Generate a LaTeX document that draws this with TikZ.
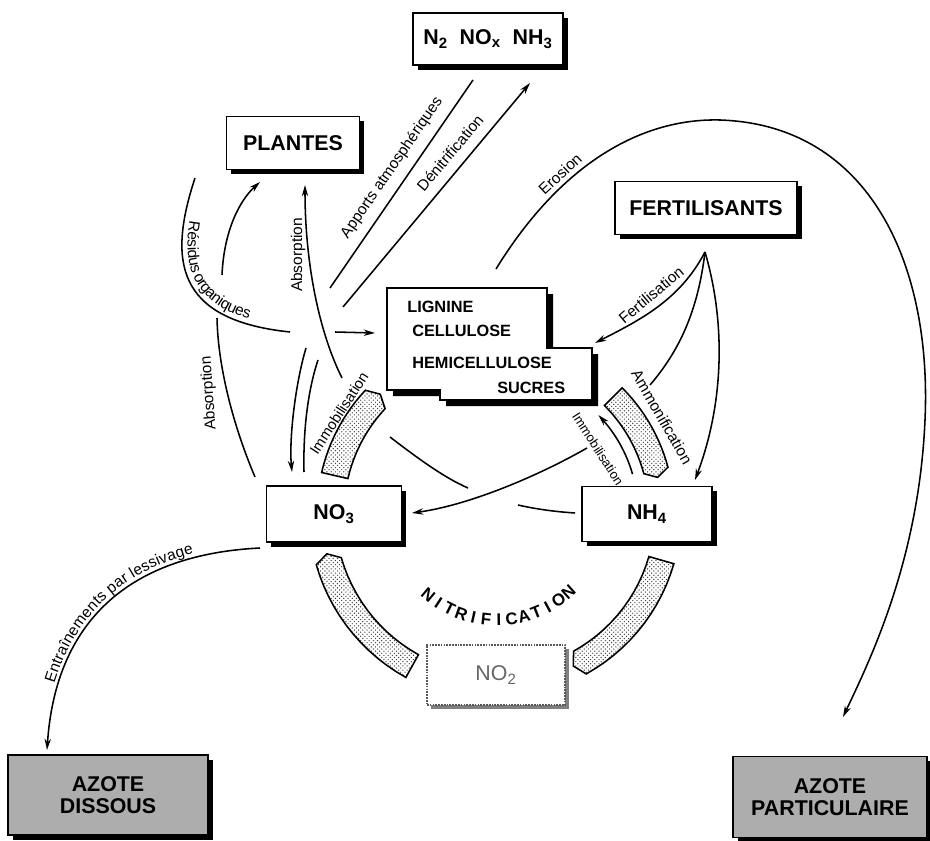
\documentclass[tikz,border=0pt]{standalone}
\usepackage{fontspec}
\setmainfont{Liberation Sans}
\usetikzlibrary{arrows.meta,shadows,patterns,decorations.text,positioning}

\newcommand\boxfont{\fontsize{15.2}{16}\selectfont\bfseries}
\newcommand\labfont{\fontsize{11}{13}\selectfont}
\newcommand\orgfont{\fontsize{11.6}{13}\selectfont\bfseries}
\newcommand\nitfont{\fontsize{12}{14}\selectfont\bfseries}

\tikzset{
  boite/.style={draw, line width=1.2pt, fill=white, font=\boxfont, inner sep=0pt,
    general shadow={fill=black, shadow xshift=3.5pt, shadow yshift=-3.5pt}},
  sortie/.style={boite, fill=black!32, align=center},
  nitrite/.style={draw=black!65, line width=1.6pt, dash pattern=on 1.2pt off 0.8pt,
    fill=white, font=\fontsize{15.2}{16}\selectfont, text=black!60, inner sep=0pt,
    general shadow={fill=black!50, shadow xshift=2.5pt, shadow yshift=-2.5pt}},
  flux/.style={line width=1.1pt},
  etiq/.style={font=\labfont, inner sep=1pt},
  bande/.style={draw, line width=1.1pt, pattern=crosshatch dots, pattern color=black!75},
}

\begin{document}
\begin{tikzpicture}[x=0.025cm, y=-0.025cm, >={Stealth[length=8pt, width=4.5pt]}]
    \useasboundingbox (0,0) rectangle (930,841);

    % Compartiments
    \node[boite, minimum width=3.75cm, minimum height=1.3cm] (atmos) at (488,39)
        {N\textsubscript{2}\ \ NO\textsubscript{x}\ \ NH\textsubscript{3}};
    \node[boite, minimum width=3.325cm, minimum height=1.325cm] (plantes) at (293,143) {PLANTES};
    \node[boite, minimum width=4.55cm, minimum height=1.325cm] (fert) at (706,208) {FERTILISANTS};
    \node[boite, minimum width=3.375cm, minimum height=1.4cm] (no3) at (334,514) {NO\textsubscript{3}};
    \node[boite, minimum width=3.25cm, minimum height=1.375cm] (nh4) at (647,514) {NH\textsubscript{4}};
    \node[nitrite, minimum width=3.45cm, minimum height=1.5cm] (no2) at (496,675) {NO\textsubscript{2}};
    \node[sortie, minimum width=5cm, minimum height=2cm] (dissous) at (108,795) {AZOTE\\DISSOUS};
    \node[sortie, minimum width=4.85cm, minimum height=2.025cm] (partic) at (830,797) {AZOTE\\PARTICULAIRE};

    % Matiere organique
    \fill[black] (393,294) -- (553,294) -- (553,354) -- (598,354) -- (598,406)
        -- (446,406) -- (446,396) -- (393,396) -- cycle;
    \draw[line width=1.2pt, fill=white] (387,288) -- (547,288) -- (547,348) -- (592,348)
        -- (592,400) -- (440,400) -- (440,390) -- (387,390) -- cycle;
    \node[font=\orgfont, anchor=west, inner sep=0pt] (lignine) at (407,307) {LIGNINE};
    \node[font=\orgfont, anchor=west, inner sep=0pt] (cellulose) at (412,331) {CELLULOSE};
    \node[font=\orgfont, anchor=west, inner sep=0pt] (hemi) at (412,363) {HEMICELLULOSE};
    \node[font=\orgfont, anchor=west, inner sep=0pt] (sucres) at (497,388) {SUCRES};

    % Bandes du cycle
    \foreach \deb/\fin/\rin/\rout in {193/223/153/180, 315/345/152/177, 16/61/158/184, 119/164/162/188}{
        \pgfmathsetmacro\rmil{(\rin+\rout)/2}
        \draw[bande] plot[domain=\deb:\fin, samples=14] ({497+\rout*cos(\x)},{513+\rout*sin(\x)})
            -- ({497+\rmil*cos(\fin+2.5)},{513+\rmil*sin(\fin+2.5)})
            -- plot[domain=\fin:\deb, samples=14] ({497+\rin*cos(\x)},{513+\rin*sin(\x)}) -- cycle;
    }
    \foreach \lettre [count=\i] in {N,I,T,R,I,F,I,C,A,T,I,O,N}{
        \pgfmathsetmacro\ang{130-(\i-1)*82/12}
        \node[font=\nitfont, rotate=90-\ang, inner sep=0pt] (nit\i)
            at ({497+107*cos(\ang)},{513+107*sin(\ang)}) {\lettre};
    }

    % Points des flux
    \coordinate (apA) at (473,80);  \coordinate (apB) at (330,288);
    \coordinate (apC) at (306,348); \coordinate (apD) at (292,472);
    \coordinate (dnA) at (304,472); \coordinate (dnB) at (318,360);
    \coordinate (dnC) at (343,307); \coordinate (dnD) at (530,83);
    \coordinate (abA) at (342,378); \coordinate (abB) at (305,185);
    \coordinate (alA) at (255,477); \coordinate (alB) at (217,318);
    \coordinate (alC) at (222,275); \coordinate (alD) at (260,182);
    \coordinate (reA) at (195,178); \coordinate (reB) at (290,332);
    \coordinate (reC) at (335,332); \coordinate (reD) at (375,333);
    \coordinate (erA) at (496,269); \coordinate (erB) at (843,717);
    \coordinate (fe0) at (705,252); \coordinate (feA) at (595,343);
    \coordinate (feB) at (650,385); \coordinate (feC) at (587,448);
    \coordinate (feD) at (412,513); \coordinate (feE) at (695,480);
    \coordinate (mnA) at (390,437); \coordinate (mnB) at (468,488);
    \coordinate (mnC) at (518,505); \coordinate (mnD) at (575,513);
    \coordinate (leA) at (260,548); \coordinate (leB) at (47,750);

    % Flux
    \draw[flux] (apA) -- (apB);
    \draw[flux, ->] (apC) .. controls (295,385) and (289,440) .. (apD);
    \draw[flux] (dnA) .. controls (303,430) and (308,390) .. (dnB);
    \draw[flux, ->] (dnC) -- (dnD);
    \draw[flux, ->] (abA) .. controls (318,330) and (305,260) .. (abB);
    \draw[flux] (alA) .. controls (235,430) and (218,370) .. (alB);
    \draw[flux, ->] (alC) .. controls (224,230) and (240,200) .. (alD);
    \draw[flux, postaction={decorate}, decoration={text along path,
        text={|\labfont|Résidus organiques}, text align=center, raise=4pt}]
        (reA) .. controls (168,260) and (175,320) .. (reB);
    \draw[flux, ->] (reC) -- (reD);
    \draw[flux, ->] (erA) .. controls (560,165) and (640,118) .. (720,120)
        .. controls (870,125) and (932,265) .. (925,420)
        .. controls (919,560) and (870,660) .. (erB);
    \draw[flux, ->] (fe0) .. controls (680,300) and (640,320) .. (feA);
    \draw[flux] (fe0) .. controls (698,310) and (680,350) .. (feB);
    \draw[flux, ->] (feC) .. controls (540,475) and (470,505) .. (feD);
    \draw[flux, ->] (fe0) .. controls (725,320) and (725,400) .. (feE);
    \draw[flux] (mnA) .. controls (420,460) and (445,478) .. (mnB);
    \draw[flux] (mnC) .. controls (540,510) and (560,512) .. (mnD);
    \draw[flux, ->] plot[domain=344:316, samples=15] ({497+141*cos(\x)},{513+141*sin(\x)});
    \draw[flux, <-] (leB) .. controls (55,630) and (120,555) .. (leA);
    \path[decorate, decoration={text along path,
        text={|\labfont|Entraînements par lessivage}, text align=center, raise=3pt}]
        (leB) .. controls (55,630) and (120,555) .. (leA);

    % Etiquettes
    \node[etiq, rotate=55.5] (lapports) at (392,168) {Apports atmosphériques};
    \node[etiq, rotate=50] (ldenit) at (450,153) {Dénitrification};
    \node[etiq, rotate=43] (leros) at (560,174) {Erosion};
    \node[etiq, rotate=40] (lfert) at (651,295) {Fertilisation};
    \node[etiq, rotate=90] (labsc) at (298,255) {Absorption};
    \node[etiq, rotate=94] (labsl) at (209,393) {Absorption};
    \node[etiq, rotate=57, font=\fontsize{10.5}{12}\selectfont] (limmol) at (339,413) {Immobilisation};
    \node[etiq, rotate=-57, font=\fontsize{9.2}{11}\selectfont] (limmor) at (598,449) {Immobilisation};
    \node[etiq, rotate=-60] (lammo) at (662,417) {Ammonification};
\end{tikzpicture}
\end{document}
